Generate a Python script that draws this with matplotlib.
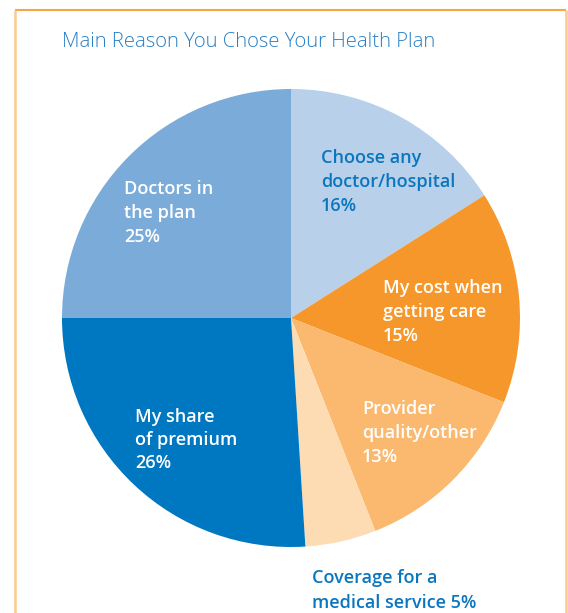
import matplotlib.pyplot as plt

# chart data
TITLE = "Main Reason You Chose Your Health Plan"
REASONS = ["Choose any doctor/hospital", "My cost when getting care",
           "Provider quality/other", "Coverage for a medical service",
           "My share of premium", "Doctors in the plan"]
SHARES = [16, 15, 13, 5, 26, 25]
LABEL_LINES = [["Choose any", "doctor/hospital", "16%"],
               ["My cost when", "getting care", "15%"],
               ["Provider", "quality/other", "13%"],
               ["Coverage for a", "medical service 5%"],
               ["My share", "of premium", "26%"],
               ["Doctors in", "the plan", "25%"]]
COLORS = ["#b8d0ea", "#f5972a", "#fbb86f", "#fedcb3", "#0078c1", "#7babd9"]

W, H = 568, 613
BLUE_TEXT = "#0a76be"

fig = plt.figure(figsize=(W / 100, H / 100), dpi=100)
ax = fig.add_axes([0, 0, 1, 1])

# pie, drawn in pixel-like coordinates (y measured from the top)
cx, cy, r = 291, H - 318, 229
ax.pie(SHARES, colors=COLORS, startangle=90, counterclock=False,
       center=(cx, cy), radius=r, frame=True,
       wedgeprops=dict(linewidth=0))
ax.set_xlim(0, W)
ax.set_ylim(0, H)
ax.set_aspect("equal")
ax.axis("off")

# labels: (left x, first baseline y from top, line step, color)
label_pos = [(321, 163, 24, BLUE_TEXT), (383, 293, 24, "white"),
             (362, 414, 24, "white"), (312, 583, 25, BLUE_TEXT),
             (135, 422, 23, "white"), (124, 194, 24, "white")]
for lines, (x, y, step, c) in zip(LABEL_LINES, label_pos):
    for i, line in enumerate(lines):
        ax.text(x, H - (y + i * step), line, color=c, fontsize=13,
                family="Open Sans", fontweight="semibold",
                ha="left", va="baseline")

ax.text(62, H - 47, TITLE, color="#2a80c4", fontsize=14.6,
        family="Open Sans", fontweight="light", ha="left", va="baseline")

# orange frame
ax.plot([15, 566], [H - 10, H - 10], color="#f8a640", lw=1.5, solid_capstyle="butt")
ax.plot([15, 15], [H - 10, 0], color="#fdc993", lw=1.8, solid_capstyle="butt")
ax.plot([566, 566], [H - 10, 0], color="#fdc993", lw=1.8, solid_capstyle="butt")

plt.savefig("out.png", dpi=100)
plt.close()
